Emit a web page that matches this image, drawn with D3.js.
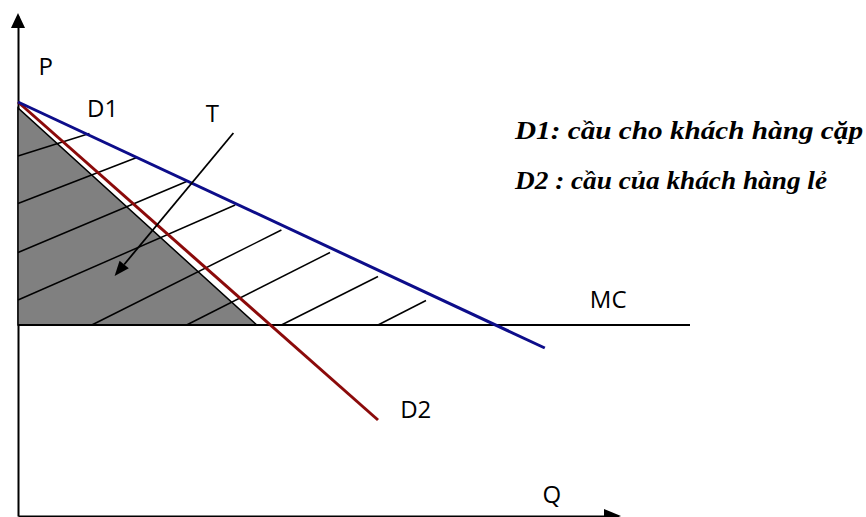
<!DOCTYPE html>
<html>
<head>
<meta charset="utf-8">
<script src="https://cdn.jsdelivr.net/npm/d3@7"></script>
<style>
  html, body { margin: 0; padding: 0; background: #fff; }
  svg { display: block; }
  .lbl { font-family: "Open Sans", "Noto Sans", sans-serif; font-size: 24px; fill: #000; }
  .note { font-family: "Liberation Serif", "Times New Roman", serif; font-size: 26px; font-weight: bold; font-style: italic; fill: #000; }
</style>
</head>
<body>
<svg id="chart" width="866" height="517"></svg>
<script>
// Price (P) and quantity (Q) in arbitrary units
const d1Line = [{ q: 0, p: 82.8 }, { q: 87.8, p: 33.6 }];
const d2Line = [{ q: 0, p: 82.8 }, { q: 60, p: 19.2 }];
const mcLine = [{ q: 0, p: 38.2 }, { q: 112, p: 38.2 }];
const surplusArea = [{ q: 0, p: 81.6 }, { q: 0, p: 38.2 }, { q: 39.8, p: 38.2 }];
const hatchLines = [
  [{ q: 0, p: 72.0 }, { q: 11.9, p: 76.5 }],
  [{ q: 0, p: 62.5 }, { q: 19.8, p: 71.7 }],
  [{ q: 0, p: 52.7 }, { q: 28.1, p: 66.9 }],
  [{ q: 0, p: 43.2 }, { q: 36.2, p: 62.2 }],
  [{ q: 12.3, p: 38.2 }, { q: 43.9, p: 57.2 }],
  [{ q: 28.1, p: 38.2 }, { q: 52.0, p: 52.7 }],
  [{ q: 43.9, p: 38.2 }, { q: 60.0, p: 47.9 }],
  [{ q: 60.0, p: 38.2 }, { q: 68.0, p: 43.1 }]
];
const tPointer = [{ q: 35.9, p: 76.6 }, { q: 16.1, p: 48.0 }];
const labels = [
  { text: "P", q: 3.4, p: 88.2 },
  { text: "D1", q: 11.5, p: 79.8 },
  { text: "T", q: 31.3, p: 78.8 },
  { text: "MC", q: 95.3, p: 41.6 },
  { text: "D2", q: 63.7, p: 19.6 },
  { text: "Q", q: 87.4, p: 2.6 }
];
const notes = ["D1: cầu cho khách hàng cặp", "D2 : cầu của khách hàng lẻ"];
const noteWidths = [348, 312];

const svg = d3.select("#chart");
const x = d3.scaleLinear().domain([0, 100]).range([18, 618]);
const y = d3.scaleLinear().domain([0, 100]).range([516, 16]);
const line = d3.line().x(d => x(d.q)).y(d => y(d.p));

// axes without ticks, arrowheads at the ends
svg.append("g")
  .attr("transform", `translate(${x(0)},0)`)
  .call(d3.axisLeft(y).tickValues([]).tickSizeOuter(0))
  .select(".domain").attr("stroke", "#000").attr("stroke-width", 2);
svg.append("g")
  .attr("transform", `translate(0,${y(0)})`)
  .call(d3.axisBottom(x).tickValues([]).tickSizeOuter(0))
  .select(".domain").attr("stroke", "#000").attr("stroke-width", 2);

const ax0 = x(0), ayTop = y(100);
svg.append("path")
  .attr("d", `M${ax0},${ayTop - 3} L${ax0 - 7},${ayTop + 12} L${ax0 + 7},${ayTop + 12} Z`)
  .attr("fill", "#000");
const axRight = x(100), ay0 = y(0);
svg.append("path")
  .attr("d", `M${axRight + 3},${ay0} L${axRight - 14},${ay0 - 7} L${axRight - 14},${ay0 + 7} Z`)
  .attr("fill", "#000");

// shaded surplus region
svg.append("path")
  .datum(surplusArea)
  .attr("d", d => line(d) + "Z")
  .attr("fill", "#808080")
  .attr("stroke", "#000")
  .attr("stroke-width", 1.5)
  .attr("stroke-linejoin", "miter");

// hatching
svg.append("g").selectAll("path")
  .data(hatchLines)
  .join("path")
  .attr("d", line)
  .attr("fill", "none")
  .attr("stroke", "#000")
  .attr("stroke-width", 1.5);

// marginal cost
svg.append("path")
  .datum(mcLine)
  .attr("d", line)
  .attr("stroke", "#000")
  .attr("stroke-width", 2)
  .attr("fill", "none");

// demand curves
svg.append("path")
  .datum(d2Line)
  .attr("d", line)
  .attr("stroke", "#8b0a0a")
  .attr("stroke-width", 3)
  .attr("fill", "none");
svg.append("path")
  .datum(d1Line)
  .attr("d", line)
  .attr("stroke", "#0d0d8a")
  .attr("stroke-width", 3)
  .attr("fill", "none");

// pointer from label T into the shaded area
const [t0, t1] = tPointer.map(d => [x(d.q), y(d.p)]);
const ang = Math.atan2(t1[1] - t0[1], t1[0] - t0[0]);
const headLen = 15, headHalf = 6;
const baseX = t1[0] - headLen * Math.cos(ang), baseY = t1[1] - headLen * Math.sin(ang);
svg.append("line")
  .attr("x1", t0[0]).attr("y1", t0[1])
  .attr("x2", baseX).attr("y2", baseY)
  .attr("stroke", "#000").attr("stroke-width", 1.8);
svg.append("path")
  .attr("d", `M${t1[0]},${t1[1]}
    L${baseX + headHalf * Math.sin(ang)},${baseY - headHalf * Math.cos(ang)}
    L${baseX - headHalf * Math.sin(ang)},${baseY + headHalf * Math.cos(ang)} Z`)
  .attr("fill", "#000");

// curve labels
svg.append("g").selectAll("text")
  .data(labels)
  .join("text")
  .attr("class", "lbl")
  .attr("x", d => x(d.q))
  .attr("y", d => y(d.p))
  .text(d => d.text);

// notes on the right
svg.append("g").selectAll("text")
  .data(notes)
  .join("text")
  .attr("class", "note")
  .attr("x", 515)
  .attr("y", (d, i) => 139 + i * 50)
  .attr("textLength", (d, i) => noteWidths[i])
  .attr("lengthAdjust", "spacingAndGlyphs")
  .text(d => d);
</script>
</body>
</html>
